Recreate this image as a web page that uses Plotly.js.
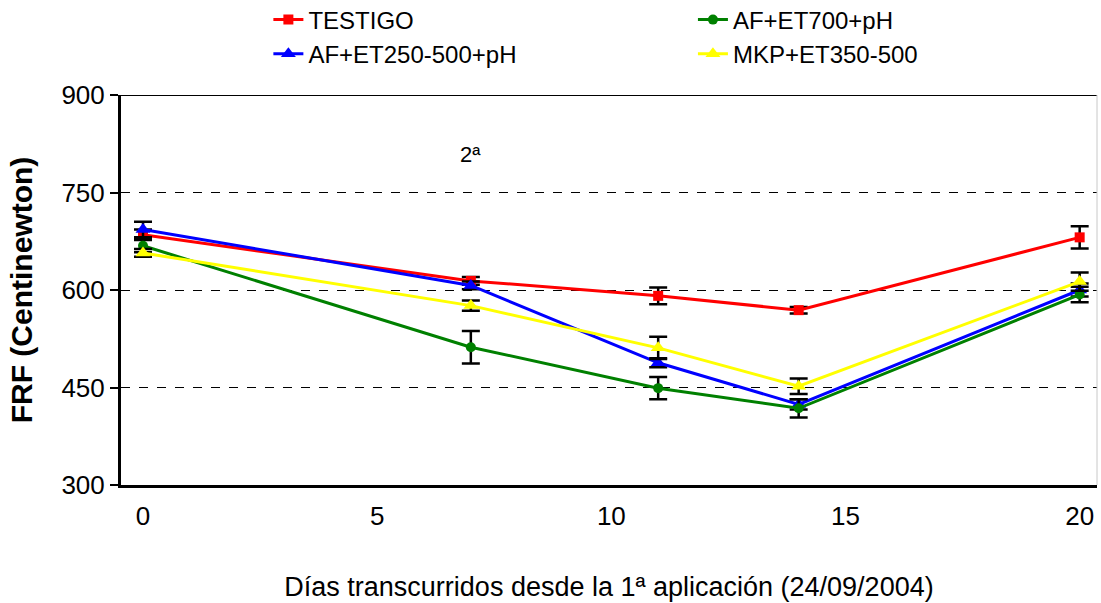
<!DOCTYPE html>
<html>
<head>
<meta charset="utf-8">
<script src="https://cdn.plot.ly/plotly-3.0.1.min.js"></script>
<style>html,body{margin:0;padding:0;background:#fff;}#chart{width:1101px;height:603px;}</style>
</head>
<body>
<div id="chart"></div>
<script>
const days = [0, 7, 11, 14, 20];
const seriesNames = ["TESTIGO", "AF+ET250-500+pH", "AF+ET700+pH", "MKP+ET350-500"];
const testigo = [685, 614, 591, 569, 681];
const testigoErr = [8, 6, 13, 5, 17];
const af250 = [693, 607, 488, 424, 600];
const af250Err = [12, 6, 7, 8, 10];
const af700 = [668, 512, 449, 418, 593];
const af700Err = [10, 25, 17, 14, 12];
const mkp = [657, 576, 511, 452, 613];
const mkpErr = [6, 8, 17, 12, 14];
const xTicks = [0, 5, 10, 15, 20];
const yTicks = [300, 450, 600, 750, 900];

const colors = ["#ff0000", "#0000ff", "#008000", "#ffff00"];
const symbols = ["square", "triangle-up", "circle", "triangle-up"];
const sizes = [10, 13, 10, 13];
const legendIds = ["legend", "legend", "legend2", "legend2"];
const ys = [testigo, af250, af700, mkp];
const errs = [testigoErr, af250Err, af700Err, mkpErr];

const traces = seriesNames.map((n, i) => ({
  x: days, y: ys[i], name: n, type: "scatter", mode: "lines+markers",
  legend: legendIds[i],
  line: {color: colors[i], width: 3},
  marker: {color: colors[i], symbol: symbols[i], size: sizes[i]},
  error_y: {type: "data", array: errs[i], visible: true, color: "#000", thickness: 2.5, width: 9}
}));

const font = "Liberation Sans, Arial, sans-serif";
const legFont = {family: font, size: 24, color: "#000"};
const layout = {
  width: 1101, height: 603,
  margin: {l: 121, r: 4, t: 95, b: 118, autoexpand: false},
  paper_bgcolor: "#fff", plot_bgcolor: "#fff",
  showlegend: true,
  legend: {x: 0.151, y: 1.25, xanchor: "left", yanchor: "top", bgcolor: "rgba(0,0,0,0)",
    tracegroupgap: 0, font: legFont},
  legend2: {x: 0.586, y: 1.25, xanchor: "left", yanchor: "top", bgcolor: "rgba(0,0,0,0)",
    tracegroupgap: 0, font: legFont},
  xaxis: {range: [-0.47, 20.37], tickvals: xTicks, ticks: "", showgrid: false, zeroline: false,
    showline: true, linecolor: "#000", linewidth: 3, mirror: false,
    tickfont: {family: font, size: 26, color: "#000"}, ticklabelstandoff: 6,
    title: {text: "Días transcurridos desde la 1ª aplicación (24/09/2004)", font: {family: font, size: 27, color: "#000"}, standoff: 47}},
  yaxis: {range: [300, 900], tickvals: yTicks, ticks: "outside", ticklen: 8, tickwidth: 2, tickcolor: "#000",
    showgrid: true, gridcolor: "#000", griddash: "dash", gridwidth: 1, zeroline: false,
    showline: true, linecolor: "#000", linewidth: 3,
    tickfont: {family: font, size: 26, color: "#000"},
    title: {text: "<b>FRF (Centinewton)</b>", font: {family: font, size: 30, color: "#000"}, standoff: 20}},
  shapes: [
    {type: "line", xref: "paper", yref: "y", x0: 0, x1: 1, y0: 900, y1: 900, line: {color: "#000", width: 2}},
    {type: "line", xref: "paper", yref: "paper", x0: 1, x1: 1, y0: 0, y1: 1, line: {color: "#c8c8c8", width: 1}}
  ],
  annotations: [
    {x: 7, y: 808, xref: "x", yref: "y", text: "2ª", showarrow: false, font: {family: font, size: 22, color: "#000"}}
  ]
};
Plotly.newPlot("chart", traces, layout, {displayModeBar: false, staticPlot: true});
</script>
</body>
</html>
